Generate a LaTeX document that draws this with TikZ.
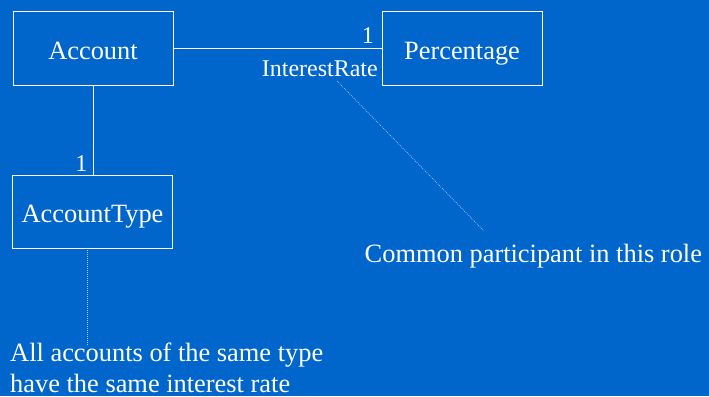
\documentclass[tikz,border=0pt]{standalone}
\usepackage{fontspec}
\setmainfont{Liberation Serif}
\definecolor{bgblue}{RGB}{0,102,204}
\definecolor{notecol}{RGB}{170,205,240}
\begin{document}
\begin{tikzpicture}[x=1pt,y=-1pt,
  classbox/.style={draw=white, line width=1pt, text=white, minimum width=160pt,
    minimum height=73pt, inner sep=0pt, text height=21.6pt, text depth=0pt,
    font=\fontsize{26.4}{31}\selectfont},
  assoc/.style={draw=white, line width=1pt},
  notelink/.style={draw=notecol, line width=0.7pt, dash pattern=on 0.8pt off 1.2pt},
  small/.style={text=white, inner sep=0pt, font=\fontsize{24}{28}\selectfont},
  notetext/.style={text=white, inner sep=0pt, align=left, font=\fontsize{26.4}{31}\selectfont}]
  % background and page size
  \fill[bgblue] (0,0) rectangle (709,396);
  \useasboundingbox (0,0) rectangle (709,396);

  % classes
  \node[classbox] (acc) at (93,48.5) {Account};
  \node[classbox] (pct) at (462,48.5) {Percentage};
  \node[classbox] (acctype) at (92.5,211.5) {AccountType};

  % associations
  \draw[assoc] (acc.south -| 93.7,0) -- (acctype.north -| 93.7,0);
  \draw[assoc] (acc.east) -- (pct.west);

  % multiplicities and role name
  \node[small, anchor=base east] (m1) at (374,43.3) {1};
  \node[small, anchor=base east] (role) at (378,76.7) {InterestRate};
  \node[small, anchor=base east] (m2) at (87.5,171) {1};

  % notes (the base of a two-line node is its last line)
  \node[notetext, anchor=base west] (note1) at (364.5,262) {Common participant in this role};
  \node[notetext, anchor=base west, text depth=0pt] (note2) at (10,392) {All accounts of the same type\\have the same interest rate};

  \coordinate (roleanchor) at (337,81);
  \coordinate (note1end) at (484,231);
  \draw[notelink] (roleanchor) -- (note1end);
  \coordinate (typeanchor) at (87,250);
  \coordinate (note2end) at (87,345);
  \draw[notelink] (typeanchor) -- (note2end);
\end{tikzpicture}
\end{document}
